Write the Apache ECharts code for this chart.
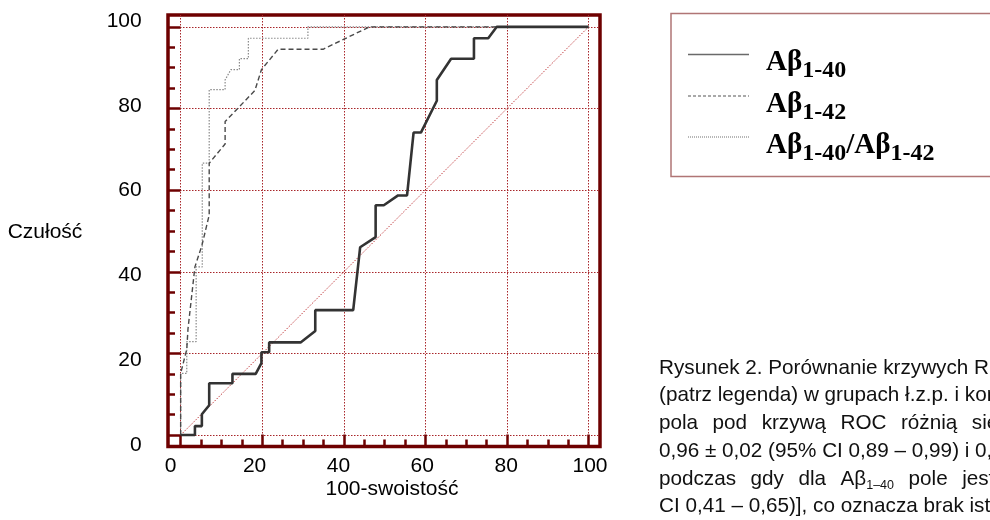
<!DOCTYPE html>
<html lang="pl">
<head>
<meta charset="utf-8">
<title>Krzywe ROC Aβ</title>
<script src="https://cdn.jsdelivr.net/npm/echarts@6/dist/echarts.min.js"></script>
<style>
  html, body { margin: 0; padding: 0; background: #fff; }
  #chart { width: 990px; height: 520px; }
</style>
</head>
<body>
<div id="chart"></div>
<script>
  // punkty krzywych ROC: [100-swoistość, czułość]
  const roc140 = [[0, 0], [3.5, 0], [3.5, 2.2], [5.2, 2.2], [5.2, 5.1], [7.0, 7.3], [7.0, 12.7], [12.7, 12.7],
    [12.7, 15.0], [18.4, 15.0], [19.8, 17.6], [19.8, 20.3], [21.7, 20.3], [21.7, 22.7], [29.4, 22.7],
    [33.0, 25.5], [33.0, 30.6], [42.3, 30.6], [44.0, 46.0], [47.8, 48.5], [47.8, 56.3], [49.8, 56.3],
    [53.3, 58.7], [55.5, 58.7], [57.1, 74.1], [58.9, 74.1], [62.8, 81.9], [62.8, 87.0], [66.3, 92.2],
    [71.9, 92.2], [71.9, 97.2], [75.4, 97.2], [77.5, 100], [100, 100]];
  const roc142 = [[0, 0], [0, 15.1], [1.5, 21], [1.8, 26], [3.5, 41.2], [5.2, 46.4], [7.0, 53.9], [7.0, 66.6],
    [10.9, 71.3], [10.9, 76.8], [18.2, 84.4], [19.8, 89.5], [23.9, 94.5], [34.9, 94.5], [46.3, 100], [100, 100]];
  const rocRatio = [[0, 0], [0, 15.1], [1.5, 15.1], [1.5, 22.9], [3.8, 22.9], [3.8, 41.2], [5.3, 41.2],
    [5.3, 66.6], [7.0, 66.6], [7.0, 84.6], [10.9, 84.6], [10.9, 87.0], [12.3, 89.5], [14.4, 89.5],
    [14.4, 92.2], [16.6, 92.2], [16.6, 97.2], [31.2, 97.2], [31.2, 100], [100, 100]];
  const diagonal = [[0, 0], [100, 100]];

  const minorTicks = [0, 5, 10, 15, 20, 25, 30, 35, 40, 45, 50, 55, 60, 65, 70, 75, 80, 85, 90, 95, 100];
  const majorTicks = [0, 20, 40, 60, 80, 100];
  const legendNames = ['Aβ1-40', 'Aβ1-42', 'Aβ1-40/Aβ1-42'];
  const xName = '100-swoistość';
  const yName = 'Czułość';
  const captionLines = [
    'Rysunek 2. Porównanie krzywych ROC dla Aβ1–40, Aβ1–42 oraz Aβ1–40/Aβ1–42',
    '(patrz legenda) w grupach ł.z.p. i kontrolnej',
    'pola pod krzywą ROC różnią się istotnie',
    '0,96 ± 0,02 (95% CI 0,89 – 0,99) i 0,92',
    'podczas gdy dla Aβ1–40 pole jest równe',
    'CI 0,41 – 0,65)], co oznacza brak istotności'
  ];
  const justified = [false, false, true, false, true, false];

  const FRAME = '#6e0000';
  const GRIDC = '#a8262a';
  const SANS = '"Liberation Sans", Arial, sans-serif';
  const SERIF = '"Liberation Serif", "Times New Roman", serif';
  // zakres osi wewnątrz ramki (ramka wychodzi poza 0..100)
  const X_RANGE = [-3.1, 102.8];
  const Y_RANGE = [-2.8, 102.9];

  function frameAxis(dim, pos, ticks, len, split) {
    return {
      type: 'value', gridIndex: 0, position: pos,
      min: dim === 'x' ? X_RANGE[0] : Y_RANGE[0],
      max: dim === 'x' ? X_RANGE[1] : Y_RANGE[1],
      axisLine: { show: false, onZero: false },
      axisTick: { show: true, inside: true, length: len, customValues: ticks,
        lineStyle: { color: FRAME, width: 2.5 } },
      axisLabel: { show: false },
      splitLine: { show: split, lineStyle: { color: GRIDC, width: 1, type: [1.5, 1.5] } }
    };
  }

  function labelAxis(pos, margin) {
    return {
      type: 'value', gridIndex: 1, position: pos, min: 0, max: 100,
      axisLine: { show: false, onZero: false }, axisTick: { show: false }, splitLine: { show: false },
      axisLabel: { margin: margin, fontSize: 21, color: '#000', fontFamily: SANS,
        customValues: majorTicks }
    };
  }

  function richName(n) {
    return n.replace(/Aβ(\d-\d+)/g, '{a|Aβ}{s|$1}').replace('}/{', '}{a|/}{');
  }
  const legendRich = {
    a: { fontFamily: SERIF, fontWeight: 'bold', fontSize: 29, fill: '#000' },
    s: { fontFamily: SERIF, fontWeight: 'bold', fontSize: 24, fill: '#000', padding: [15, 0, 0, 0] }
  };
  const legendStyles = [
    { stroke: '#6a6a6a', lineWidth: 1.5 },
    { stroke: '#555', lineWidth: 1.2, lineDash: [3, 2] },
    { stroke: '#888', lineWidth: 1.2, lineDash: [1, 1] }
  ];

  function captionText(line, just) {
    let t = line.replace(/Aβ(\d–\d+)/g, 'Aβ{sub|$1}');
    if (just) t = t.split(' ').join('{g| }');
    return t;
  }

  const graphic = [
    { type: 'rect', shape: { x: 671, y: 13.5, width: 340, height: 163 },
      style: { fill: 'none', stroke: '#b07575', lineWidth: 1.5 } },
    { type: 'text', x: 45, y: 232, style: { text: yName, font: '21px ' + SANS, fill: '#000',
      align: 'center', verticalAlign: 'middle' } },
    { type: 'text', x: 392, y: 489, style: { text: xName, font: '21px ' + SANS, fill: '#000',
      align: 'center', verticalAlign: 'middle' } }
  ];
  const legendY = [63, 105, 146];
  const legendLineY = [54.5, 96, 137];
  legendNames.forEach((n, i) => {
    graphic.push({ type: 'line', shape: { x1: 688, y1: legendLineY[i], x2: 749, y2: legendLineY[i] },
      style: legendStyles[i] });
    graphic.push({ type: 'text', x: 766, y: legendY[i], style: { text: richName(n), rich: legendRich,
      font: 'bold 29px ' + SERIF, fill: '#000', align: 'left', verticalAlign: 'middle' } });
  });
  captionLines.forEach((l, i) => {
    graphic.push({ type: 'text', x: 659, y: 368 + i * 27.7, style: {
      text: captionText(l, justified[i]), font: '20.7px ' + SANS, fill: '#111',
      align: 'left', verticalAlign: 'middle', lineHeight: 30,
      rich: { g: { width: 14.5 }, sub: { fontSize: 12.5, padding: [13, 0, 0, 0] } } } });
  });

  const chart = echarts.init(document.getElementById('chart'), null, { renderer: 'canvas' });
  chart.setOption({
    animation: false,
    backgroundColor: '#fff',
    grid: [
      { left: 168, right: 390, top: 15, bottom: 73.5, show: true, borderColor: FRAME, borderWidth: 3.5,
        backgroundColor: 'transparent' },
      { left: 170.7, right: 400, top: 21, bottom: 75 }
    ],
    xAxis: [
      frameAxis('x', 'bottom', minorTicks, 7, false),
      frameAxis('x', 'bottom', majorTicks, 12, true),
      labelAxis('bottom', 11)
    ],
    yAxis: [
      frameAxis('y', 'left', minorTicks, 7, false),
      frameAxis('y', 'left', majorTicks, 12.5, true),
      labelAxis('left', 29)
    ],
    graphic: graphic,
    series: [
      { type: 'line', data: diagonal, symbol: 'none', silent: true, z: 1,
        lineStyle: { color: '#c23b3e', width: 1, type: [1.5, 1.5] } },
      { type: 'line', name: legendNames[2], data: rocRatio, symbol: 'none', z: 3,
        lineStyle: { color: '#8a8a8a', width: 1.2, type: [1.5, 1.5] } },
      { type: 'line', name: legendNames[1], data: roc142, symbol: 'none', z: 4,
        lineStyle: { color: '#4a4a4a', width: 1.4, type: [5, 3] } },
      { type: 'line', name: legendNames[0], data: roc140, symbol: 'none', z: 5,
        lineStyle: { color: '#333', width: 2.6 } }
    ]
  });
</script>
</body>
</html>
